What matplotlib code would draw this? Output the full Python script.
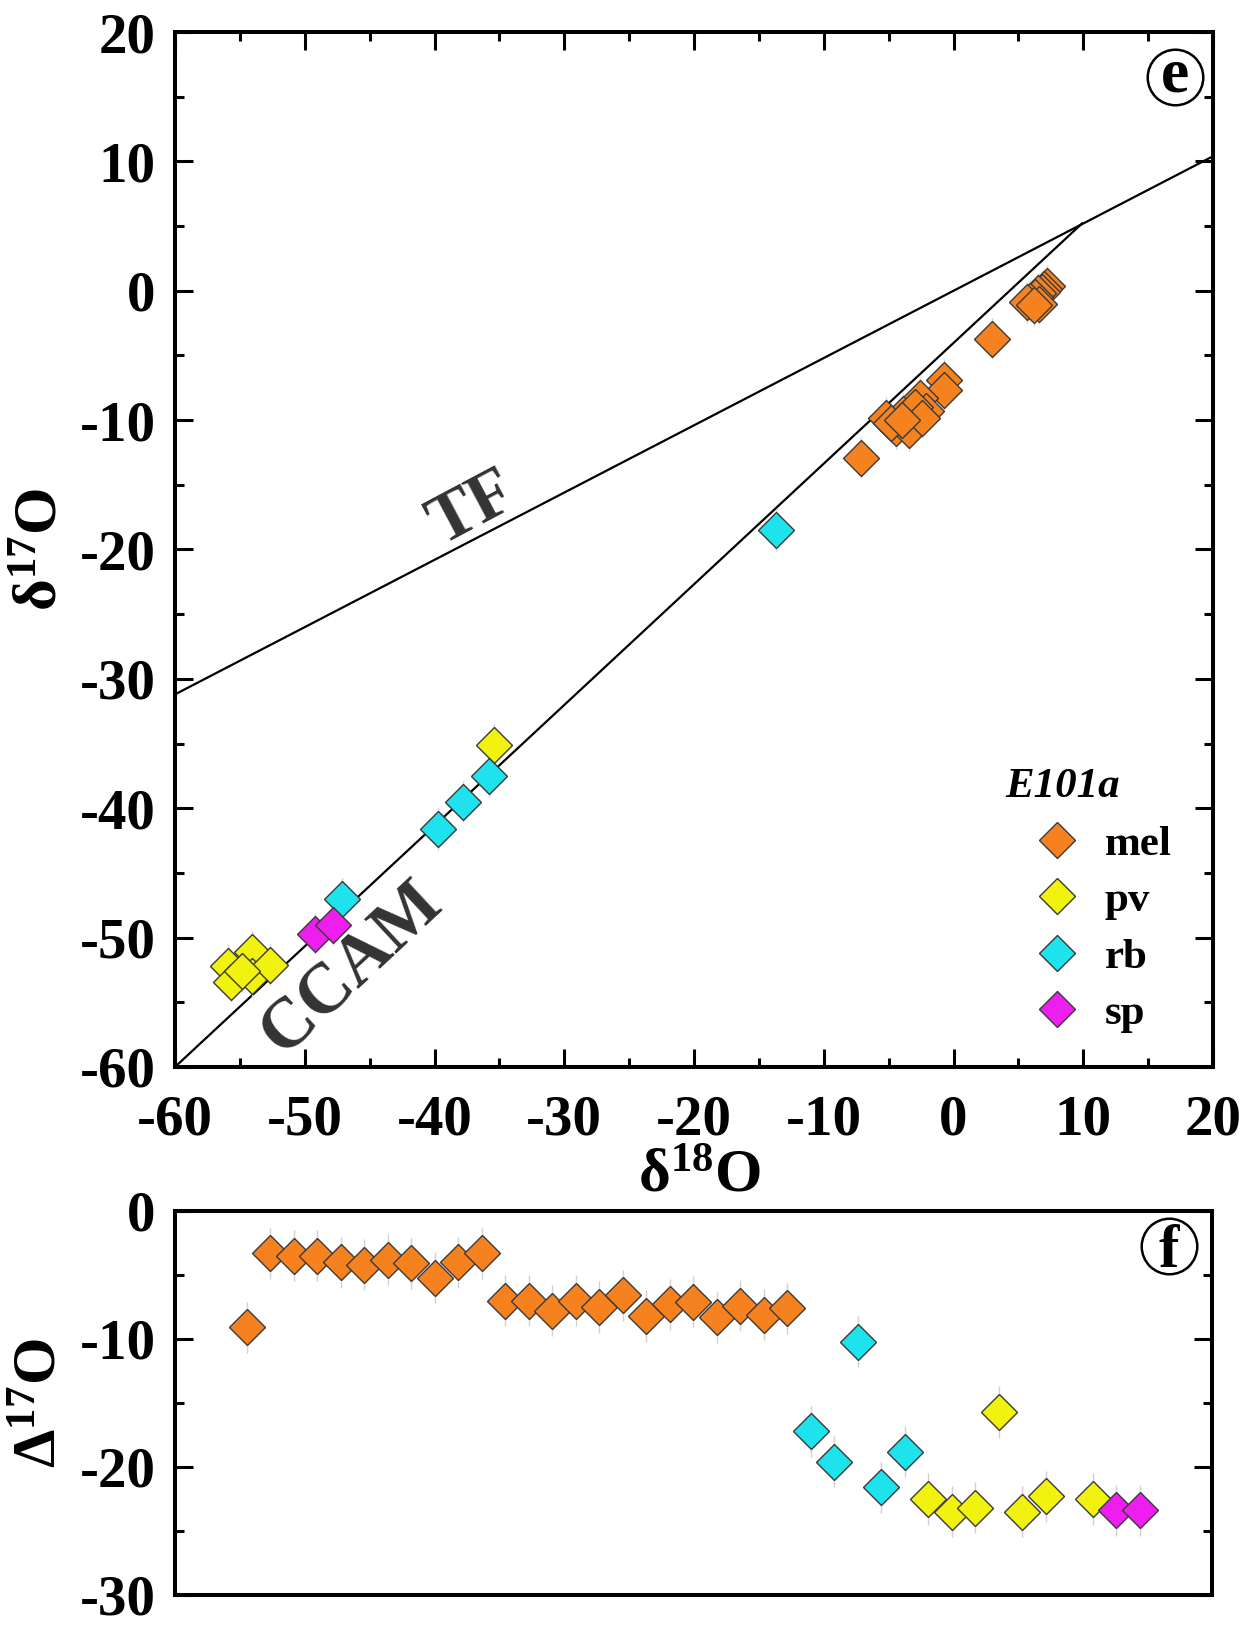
import matplotlib
matplotlib.use("Agg")
import matplotlib.pyplot as plt
from matplotlib.lines import Line2D
from matplotlib.ticker import MultipleLocator

plt.rcParams['font.family'] = ['Liberation Serif', 'DejaVu Serif']
plt.rcParams['font.weight'] = 'bold'
plt.rcParams['mathtext.fontset'] = 'custom'
plt.rcParams['mathtext.rm'] = 'Liberation Serif:bold'
plt.rcParams['mathtext.bf'] = 'Liberation Serif:bold'
plt.rcParams['mathtext.default'] = 'rm'
plt.rcParams['axes.unicode_minus'] = False

# ---------------- data: panel (e) ----------------
mel_d18O = [7.2, 7.0, 6.8, 6.5, 6.3, 5.9, 5.7, 6.6, 6.2, 3.0, -7.1,
            -0.7, -0.7, -2.6, -3.9, -5.2, -4.4, -3.2, -2.1, -3.4, -4.8, -3.0, -2.4, -4.0]
mel_d17O = [0.4, 0.1, -0.1, -0.2, -0.5, -0.8, -0.9, -1.0, -1.1, -3.7, -12.9,
            -6.9, -7.7, -8.3, -9.5, -9.8, -10.6, -10.0, -9.3, -10.8, -10.2, -9.0, -9.8, -10.0]
pv_d18O = [-55.9, -54.1, -55.7, -54.1, -52.7, -54.8, -35.4]
pv_d17O = [-52.2, -51.1, -53.4, -53.0, -52.1, -52.6, -35.1]
rb_d18O = [-13.7, -35.8, -37.8, -39.7, -47.1]
rb_d17O = [-18.5, -37.5, -39.5, -41.6, -47.0]
sp_d18O = [-49.2, -47.8]
sp_d17O = [-49.7, -49.0]

tf_x = [-60, 20]
tf_y = [-31.2, 10.4]
ccam_x = [-60, 9.9]
ccam_y = [-60.0, 5.2]

# ---------------- data: panel (f) ----------------
mel_idx = list(range(0, 24))
mel_D17O = [-9.1, -3.3, -3.5, -3.5, -4.0, -4.2, -3.8, -4.1, -5.2, -4.0, -3.3,
            -7.0, -7.0, -7.8, -7.0, -7.5, -6.6, -8.2, -7.3, -7.1, -8.3, -7.4, -8.1, -7.6]
rb_idx = [24, 25, 26, 27, 28]
rb_D17O = [-17.2, -19.6, -10.2, -21.6, -18.8]
pv_idx = [29, 30, 31, 32, 33, 34, 36]
pv_D17O = [-22.5, -23.5, -23.2, -15.7, -23.5, -22.3, -22.5]
sp_idx = [37, 38]
sp_D17O = [-23.4, -23.4]

groups = ['mel', 'pv', 'rb', 'sp']
colors = {'mel': '#F5821F', 'pv': '#F2F20F', 'rb': '#1EE3EC', 'sp': '#EE1EEE'}
edge = '#3a3a3a'
ms = 18.5
err_col = '#d0d0d0'

fig = plt.figure(figsize=(12.59, 16.25), dpi=100)
ax1 = fig.add_axes([0.139, 0.3434, 0.8245, 0.6369])
ax2 = fig.add_axes([0.139, 0.0185, 0.8240, 0.2363])

# ---- panel e ----
ax1.plot(tf_x, tf_y, color='black', lw=1.6, zorder=2)
ax1.plot(ccam_x, ccam_y, color='black', lw=1.6, zorder=2)

top_sets = [('mel', mel_d18O, mel_d17O), ('pv', pv_d18O, pv_d17O),
            ('rb', rb_d18O, rb_d17O), ('sp', sp_d18O, sp_d17O)]
for name, xs, ys in top_sets:
    ax1.errorbar(xs, ys, yerr=1.6, fmt='none', ecolor=err_col, elinewidth=1, zorder=3)
    ax1.plot(xs, ys, linestyle='none', marker='D', ms=ms, mfc=colors[name],
             mec=edge, mew=1.0, zorder=4)

ax1.set_xlim(-60, 20)
ax1.set_ylim(-60, 20)
ax1.xaxis.set_major_locator(MultipleLocator(10))
ax1.xaxis.set_minor_locator(MultipleLocator(5))
ax1.yaxis.set_major_locator(MultipleLocator(10))
ax1.yaxis.set_minor_locator(MultipleLocator(5))
ax1.tick_params(which='both', direction='in', top=True, right=True, width=2.2)
ax1.tick_params(which='major', length=13, labelsize=41)
ax1.tick_params(which='minor', length=6.5)
ax1.tick_params(axis='x', which='major', pad=20)
ax1.tick_params(axis='y', which='major', pad=14)
for s in ax1.spines.values():
    s.set_linewidth(2.9)

ax1.set_xlabel('δ$^{18}$O', fontsize=44, fontweight='bold')
ax1.set_ylabel('δ$^{17}$O', fontsize=44, fontweight='bold')
ax1.xaxis.set_label_coords(0.505, -0.106)
ax1.xaxis.label.set_va('center')
ax1.yaxis.set_label_coords(-0.129, 0.5)
ax1.yaxis.label.set_va('center')

ax1.text(-37.0, -16.9, 'TF', rotation=28, rotation_mode='anchor', ha='center', va='center',
         fontsize=50, color='#333333', fontweight='bold')
ax1.text(-46.4, -52.4, 'CCAM', rotation=43, rotation_mode='anchor', ha='center', va='center',
         fontsize=51, color='#333333', fontweight='bold')

# legend
handles = [Line2D([], [], linestyle='none', marker='D', ms=ms, mfc=colors[g], mec=edge, mew=1.0)
           for g in groups]
leg = ax1.legend(handles, groups, loc='upper left', bbox_to_anchor=(0.829, 0.234),
                 frameon=False, fontsize=31, handlelength=1.0, handletextpad=0.6,
                 labelspacing=0.40, borderpad=0.0, borderaxespad=0.0)
ax1.text(0.800, 0.271, 'E101a', transform=ax1.transAxes, fontsize=31, fontweight='bold',
         fontstyle='italic', ha='left', va='center')

# circled labels
def circled(ax, x, y, letter, fs, dy):
    ax.plot([x], [y], marker='o', ms=40, mfc='none', mec='black', mew=1.8,
            transform=ax.transAxes, clip_on=False, zorder=6)
    ax.annotate(letter, xy=(x, y), xycoords='axes fraction', xytext=(0, dy),
                textcoords='offset points', ha='center', va='baseline', fontsize=fs,
                fontweight='bold', zorder=6)

circled(ax1, 0.963, 0.957, 'e', 46, -10.5)

# ---- panel f ----
bot_sets = [('mel', mel_idx, mel_D17O), ('rb', rb_idx, rb_D17O),
            ('pv', pv_idx, pv_D17O), ('sp', sp_idx, sp_D17O)]
for name, xs, ys in bot_sets:
    ax2.errorbar(xs, ys, yerr=2.0, fmt='none', ecolor=err_col, elinewidth=1, zorder=3)
    ax2.plot(xs, ys, linestyle='none', marker='D', ms=ms, mfc=colors[name],
             mec=edge, mew=1.0, zorder=4)

ax2.set_xlim(-3.05, 41.1)
ax2.set_ylim(-30, 0)
ax2.yaxis.set_major_locator(MultipleLocator(10))
ax2.yaxis.set_minor_locator(MultipleLocator(5))
ax2.set_xticks([])
ax2.tick_params(axis='y', which='both', direction='in', left=True, right=True, width=2.2)
ax2.tick_params(axis='y', which='major', length=13, labelsize=41, pad=14)
ax2.tick_params(axis='y', which='minor', length=6.5)
for s in ax2.spines.values():
    s.set_linewidth(2.9)
ax2.set_ylabel('Δ$^{17}$O', fontsize=44, fontweight='bold')
ax2.yaxis.set_label_coords(-0.130, 0.5)
ax2.yaxis.label.set_va('center')

circled(ax2, 0.958, 0.908, 'f', 44, -15)

fig.savefig('out.png', dpi=100)
